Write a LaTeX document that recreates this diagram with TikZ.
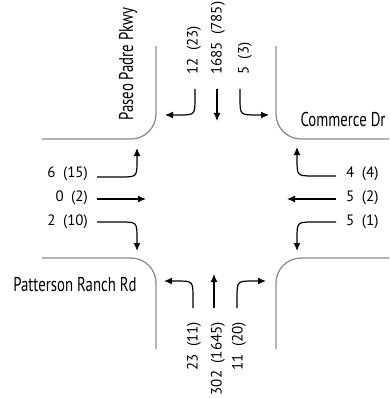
\documentclass[tikz,border=0pt]{standalone}
\usepackage{fontspec}
\setmainfont{PT Sans}
\newfontfamily\roadfont{PT Sans}[FakeStretch=0.74]
\usetikzlibrary{arrows.meta}
\tikzset{
  curb/.style={draw=black!45,line width=1.3pt,rounded corners=25pt},
  flow/.style={line width=1.2pt,-{Latex[length=8pt,width=7pt]}},
  count/.style={font=\fontsize{15}{15}\selectfont,inner sep=0pt},
  road/.style={font=\roadfont\fontsize{20}{20}\selectfont,inner sep=0pt}
}
\newcommand{\vol}[2]{#1\enspace(#2)}
\begin{document}
\begin{tikzpicture}[x=1pt,y=-1pt]
    \useasboundingbox (0,0) rectangle (389,398);
    % curbs
    \draw[curb] (42,139) -- (156,139) -- (156,46);% north west corner
    \draw[curb] (276,46) -- (276,139) -- (389,139);% north east corner
    \draw[curb] (42,258) -- (156,258) -- (156,349);% south west corner
    \draw[curb] (276,349) -- (276,258) -- (389,258);% south east corner
    % street names
    \node[road,rotate=90] (paseo) at (128,64) {Paseo Padre Pkwy};
    \node[road] (commerce) at (343,120) {Commerce Dr};
    \node[road] (patterson) at (75,285) {Patterson Ranch Rd};
    % southbound
    \node[count,rotate=90,anchor=west] (sbl) at (194,75) {\vol{12}{23}};
    \node[count,rotate=90,anchor=west] (sbt) at (218,75) {\vol{1685}{785}};
    \node[count,rotate=90,anchor=west] (sbr) at (245,75) {\vol{5}{3}};
    \draw[flow] (195,89) -- (195,98) .. controls (195,115) .. (178,115) -- (165,115);
    \draw[flow] (217,89) -- (217,121);
    \draw[flow] (240,89) -- (240,98) .. controls (240,115) .. (257,115) -- (269,115);
    % westbound
    \node[count,anchor=west] (wbr) at (346,174) {\vol{4}{4}};
    \node[count,anchor=west] (wbt) at (346,198) {\vol{5}{2}};
    \node[count,anchor=west] (wbl) at (346,222) {\vol{5}{1}};
    \draw[flow] (336,176) -- (314,176) .. controls (297,176) .. (297,159) -- (297,147);
    \draw[flow] (336,199) -- (287,199);
    \draw[flow] (336,222) -- (314,222) .. controls (297,222) .. (297,239) -- (297,251);
    % eastbound
    \node[count,anchor=east] (ebl) at (88,174) {\vol{6}{15}};
    \node[count,anchor=east] (ebt) at (88,198) {\vol{0}{2}};
    \node[count,anchor=east] (ebr) at (88,222) {\vol{2}{10}};
    \draw[flow] (97,177) -- (120,177) .. controls (137,177) .. (137,160) -- (137,148);
    \draw[flow] (97,199) -- (146,199);
    \draw[flow] (97,222) -- (120,222) .. controls (137,222) .. (137,239) -- (137,251);
    % northbound
    \node[count,rotate=90,anchor=east] (nbl) at (194,322) {\vol{23}{11}};
    \node[count,rotate=90,anchor=east] (nbt) at (218,322) {\vol{302}{1645}};
    \node[count,rotate=90,anchor=east] (nbr) at (239,322) {\vol{11}{20}};
    \draw[flow] (193,308) -- (193,298) .. controls (193,281) .. (176,281) -- (164,281);
    \draw[flow] (214,308) -- (214,274);
    \draw[flow] (237,308) -- (237,298) .. controls (237,281) .. (254,281) -- (266,281);
\end{tikzpicture}
\end{document}
